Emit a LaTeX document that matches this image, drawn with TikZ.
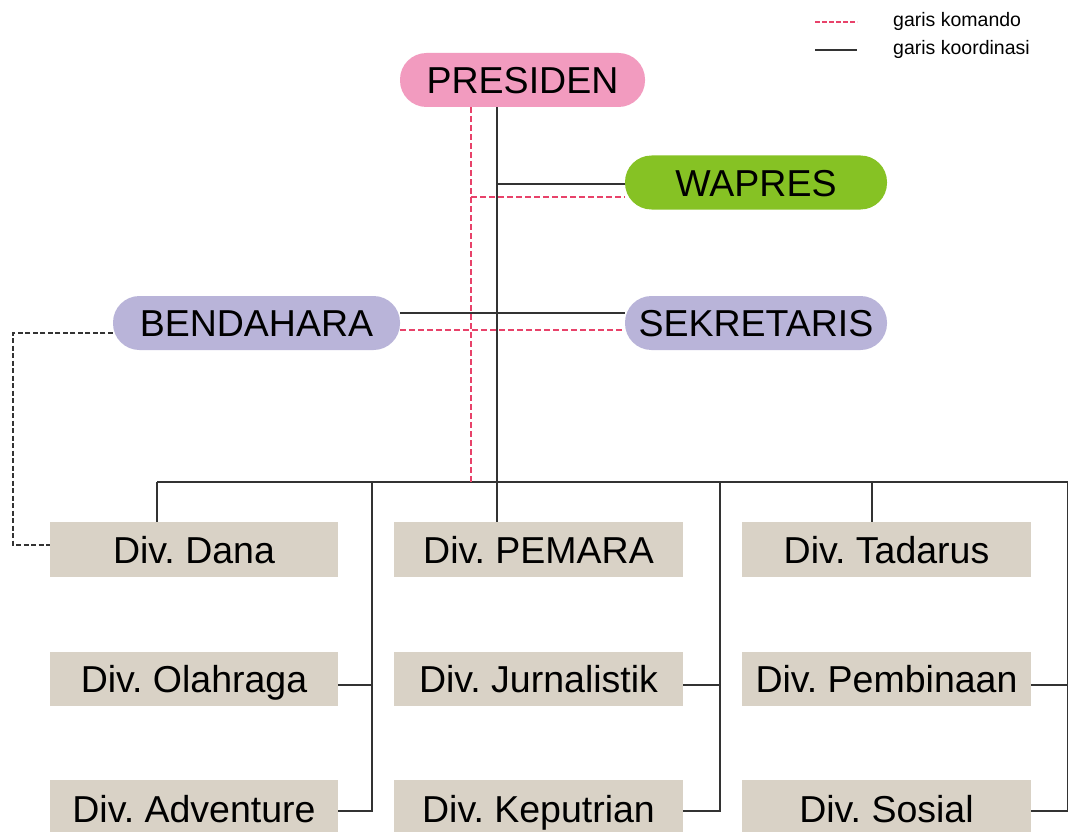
\documentclass[tikz,border=0pt]{standalone}
\usepackage{fontspec}
\setmainfont{Liberation Sans}
\frenchspacing
\usetikzlibrary{calc}
\definecolor{pinkc}{HTML}{F29BBF}
\definecolor{greenc}{HTML}{86C224}
\definecolor{lavc}{HTML}{B9B4D9}
\definecolor{beigec}{HTML}{D9D2C6}
\definecolor{redl}{HTML}{E8426A}
\definecolor{lined}{HTML}{333333}
\tikzset{
  pill/.style={rectangle, rounded corners=26.5pt, minimum height=54pt, inner sep=0pt,
    text height=27pt, text depth=0pt,
    font=\fontsize{37.5}{40}\selectfont\frenchspacing, text=black},
  divbox/.style={rectangle, fill=beigec, minimum width=289pt, minimum height=55pt, inner sep=0pt,
    text height=27pt, text depth=0pt,
    font=\fontsize{37.5}{40}\selectfont\frenchspacing, text=black},
  koord/.style={draw=lined, line width=1.4pt},
  komando/.style={draw=redl, line width=1.4pt, dash pattern=on 6pt off 3pt},
  bendline/.style={draw=lined, line width=1.4pt, dash pattern=on 5pt off 2.5pt},
  legtext/.style={font=\fontsize{19.5}{21}\selectfont, anchor=west, inner sep=0pt, text=black}
}
\begin{document}
\begin{tikzpicture}[x=1pt,y=-1pt]
\useasboundingbox[fill=white] (0,0) rectangle (1068,832);

% legend
\coordinate (l1a) at (815,22);
\coordinate (l1b) at (857,22);
\coordinate (l2a) at (815,50);
\coordinate (l2b) at (857,50);
\draw[draw=redl, line width=1.2pt, dash pattern=on 5pt off 2pt] (l1a) -- (l1b);
\draw[draw=lined, line width=1.2pt] (l2a) -- (l2b);
\node[legtext] (lk) at (893,21) {garis komando};
\node[legtext] (lo) at (893,49) {garis koordinasi};

% top nodes
\node[pill, fill=pinkc, minimum width=245pt] (pres) at (522.5,80) {PRESIDEN};
\node[pill, fill=greenc, minimum width=262pt] (wap) at (756,182.5) {WAPRES};
\node[pill, fill=lavc, minimum width=287pt] (bend) at (256.5,323) {BENDAHARA};
\node[pill, fill=lavc, minimum width=262pt] (sek) at (756,323) {SEKRETARIS};

% divisions
\node[divbox, minimum width=288pt] (dana) at (194,549.5) {Div. Dana};
\node[divbox] (pemara) at (538.5,549.5) {Div. PEMARA};
\node[divbox] (tad) at (886.5,549.5) {Div. Tadarus};
\node[divbox, minimum width=288pt, minimum height=54pt] (ola) at (194,679) {Div. Olahraga};
\node[divbox, minimum height=54pt] (jur) at (538.5,679) {Div. Jurnalistik};
\node[divbox, minimum height=54pt] (pem) at (886.5,679) {Div. Pembinaan};
\node[divbox, minimum width=288pt, minimum height=58pt] (adv) at (194,809) {Div. Adventure};
\node[divbox, minimum height=58pt] (kep) at (538.5,809) {Div. Keputrian};
\node[divbox, minimum height=58pt] (sos) at (886.5,809) {Div. Sosial};

% helper coordinates
\coordinate (trunk) at (497,482);
\coordinate (redv) at (471,482);
\coordinate (busL) at (157,482);
\coordinate (busR) at (1067.5,482);
\coordinate (c1) at (372,482);
\coordinate (c2) at (720,482);
\coordinate (c3) at (872,482);
\coordinate (lft) at (13,333);

% koordinasi lines
\draw[koord] (trunk |- pres.south) -- (trunk |- pemara.north);
\draw[koord] (trunk |- {$(wap.west)+(0,1.5)$}) -- ($(wap.west)+(0,1.5)$);
\draw[koord] ($(bend.east)+(0,-10)$) -- ($(sek.west)+(0,-10)$);
\draw[koord] (busL) -- (busR);
\draw[koord] (busL) -- (busL |- dana.north);
\draw[koord] (c3) -- (c3 |- tad.north);
\draw[koord] (c1) |- ($(adv.east)+(0,2)$);
\draw[koord] ($(ola.east)+(0,6)$) -- (c1 |- {$(ola.east)+(0,6)$});
\draw[koord] (c2) |- ($(kep.east)+(0,2)$);
\draw[koord] ($(jur.east)+(0,6)$) -- (c2 |- {$(jur.east)+(0,6)$});
\draw[koord] (busR) |- ($(sos.east)+(0,2)$);
\draw[koord] ($(pem.east)+(0,6)$) -- (busR |- {$(pem.east)+(0,6)$});

% komando lines
\draw[komando] (redv |- pres.south) -- (redv);
\draw[komando] (redv |- {$(wap.west)+(0,14.5)$}) -- ($(wap.west)+(0,14.5)$);
\draw[komando] ($(bend.east)+(0,7)$) -- ($(sek.west)+(0,7)$);

% bendahara to dana
\draw[bendline] ($(bend.west)+(0,10)$) -- (lft) |- ($(dana.west)+(0,-4.5)$);
\end{tikzpicture}
\end{document}
